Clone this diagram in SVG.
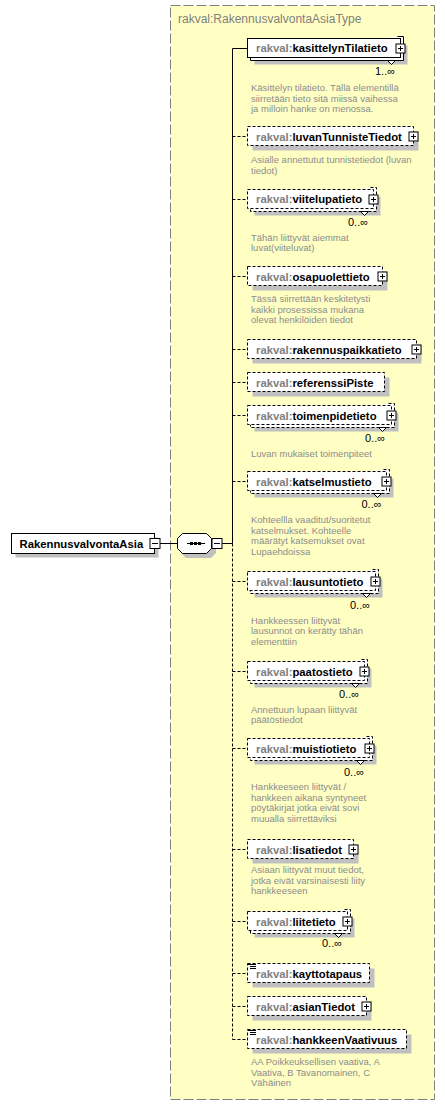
<svg xmlns="http://www.w3.org/2000/svg" width="445" height="1106" viewBox="0 0 445 1106">
<style>
.bg{fill:#ffffc4;stroke:#808080;stroke-width:1;stroke-dasharray:10,3}
.box{fill:#fff;stroke:#000;stroke-width:1}
.opt{stroke-dasharray:3,2}
.sh{fill:#c0c0c0}
.ln{fill:none;stroke:#000;stroke-width:1}
.nm{font-family:"Liberation Sans",Arial,sans-serif;font-weight:bold;font-size:11.3px;fill:#000}
.ns{fill:#808080}
.ds{font-family:"Liberation Sans",Arial,sans-serif;font-size:9.5px;fill:#8c8c8c}
.cd{font-family:"Liberation Sans",Arial,sans-serif;font-size:11px;fill:#000}
.tt{font-family:"Liberation Sans",Arial,sans-serif;font-size:12px;fill:#808080}
</style>
<defs>
<g id="plus"><rect class="box" x="-4.5" y="-4.5" width="9" height="9"/><path class="ln" d="M-2.5,0H2.5M0,-2.5V2.5"/></g>
<g id="minus"><rect class="box" x="-5" y="-5" width="10" height="10"/><path class="ln" d="M-3,0H3"/></g>
</defs>

<rect id="typebox" class="bg" x="170.5" y="5.5" width="264" height="1094"/>
<text class="tt" x="178" y="22.5">rakval:RakennusvalvontaAsiaType</text>

<g id="connectors">
<path class="ln" d="M160,543.5H177M222,543.5H232.5M232.5,48.5V543.5M232.5,48.5H247.5"/>
<path class="ln opt" d="M232.5,543.5V1039.5M232.5,136.5H247.5M232.5,199.5H247.5M232.5,276.5H247.5M232.5,349.5H247.5M232.5,382.5H247.5M232.5,415.5H247.5M232.5,481.5H247.5M232.5,581.5H247.5M232.5,671.5H247.5M232.5,748.5H247.5M232.5,849.5H247.5M232.5,921.5H247.5M232.5,973.5H247.5M232.5,1006.5H247.5M232.5,1039.5H247.5"/>
</g>

<g id="root">
<rect class="sh" x="15.5" y="537.5" width="143" height="20"/>
<rect class="box" x="11.5" y="533.5" width="143" height="20"/>
<text class="nm" x="19.5" y="547.5">RakennusvalvontaAsia</text>
<use href="#minus" x="155" y="543.5"/>
</g>

<g id="sequence">
<polygon class="sh" points="186,538 207,538 216,543 216,553 211,558 186,558 181,553 181,543"/>
<polygon class="box" points="182.5,533.5 206.5,533.5 211.5,538.5 211.5,548.5 206.5,553.5 182.5,553.5 177.5,548.5 177.5,538.5"/>
<path class="ln" d="M187,543.5H205"/>
<rect x="190" y="542" width="3" height="3" fill="#000"/>
<rect x="194" y="542" width="3" height="3" fill="#000"/>
<rect x="198" y="542" width="3" height="3" fill="#000"/>
<use href="#minus" x="217" y="543.5"/>
</g>

<g id="kasittelynTilatieto">
<rect class="sh" x="254.5" y="45.5" width="153" height="19"/>
<path class="box" d="M397.5,36.5H403.5V60.5H250.5V57.5"/>
<rect class="box" x="247.5" y="38.5" width="153" height="19"/>
<polygon class="box" points="387.5,60.5 391.5,64.5 395.5,60.5"/>
<text class="nm" x="256" y="52"><tspan class="ns">rakval:</tspan>kasittelynTilatieto</text>
<use href="#plus" x="400.5" y="48.5"/>
<text class="cd" x="375" y="75">1..∞</text>
<text class="ds" x="251" y="91">Käsittelyn tilatieto. Tällä elementillä</text>
<text class="ds" x="251" y="101.5">siirretään tieto sitä miissä vaihessa</text>
<text class="ds" x="251" y="112">ja milloin hanke on menossa.</text>
</g>

<g id="luvanTunnisteTiedot">
<rect class="sh" x="252.5" y="131.5" width="166" height="19"/>
<rect class="box opt" x="247.5" y="126.5" width="166" height="19"/>
<text class="nm" x="256" y="140.5"><tspan class="ns">rakval:</tspan>luvanTunnisteTiedot</text>
<use href="#plus" x="413.5" y="136.5"/>
<text class="ds" x="251" y="163">Asialle annettutut tunnistetiedot (luvan</text>
<text class="ds" x="251" y="173.5">tiedot)</text>
</g>

<g id="viitelupatieto">
<rect class="sh" x="254.5" y="196.5" width="126" height="19"/>
<path class="box opt" d="M370.5,187.5H376.5V211.5H250.5V208.5"/>
<rect class="box opt" x="247.5" y="189.5" width="126" height="19"/>
<polygon class="box" points="360.5,211.5 364.5,215.5 368.5,211.5"/>
<text class="nm" x="256" y="203"><tspan class="ns">rakval:</tspan>viitelupatieto</text>
<use href="#plus" x="373.5" y="199.5"/>
<text class="cd" x="348" y="225.5">0..∞</text>
<text class="ds" x="251" y="240.5">Tähän liittyvät aiemmat</text>
<text class="ds" x="251" y="251">luvat(viiteluvat)</text>
</g>

<g id="osapuolettieto">
<rect class="sh" x="252.5" y="271.5" width="135" height="19"/>
<rect class="box opt" x="247.5" y="266.5" width="135" height="19"/>
<text class="nm" x="256" y="280.5"><tspan class="ns">rakval:</tspan>osapuolettieto</text>
<use href="#plus" x="382.5" y="276.5"/>
<text class="ds" x="251" y="302">Tässä siirrettään keskitetysti</text>
<text class="ds" x="251" y="312.5">kaikki prosessissa mukana</text>
<text class="ds" x="251" y="323">olevat henkilöiden tiedot</text>
</g>

<g id="rakennuspaikkatieto">
<rect class="sh" x="252.5" y="344.5" width="169" height="19"/>
<rect class="box opt" x="247.5" y="339.5" width="169" height="19"/>
<text class="nm" x="256" y="353.5"><tspan class="ns">rakval:</tspan>rakennuspaikkatieto</text>
<use href="#plus" x="416.5" y="349.5"/>
</g>

<g id="referenssiPiste">
<rect class="sh" x="252.5" y="377.5" width="137" height="19"/>
<rect class="box opt" x="247.5" y="372.5" width="137" height="19"/>
<text class="nm" x="256" y="386.5"><tspan class="ns">rakval:</tspan>referenssiPiste</text>
</g>

<g id="toimenpidetieto">
<rect class="sh" x="254.5" y="412.5" width="144" height="19"/>
<path class="box opt" d="M388.5,403.5H394.5V427.5H250.5V424.5"/>
<rect class="box opt" x="247.5" y="405.5" width="144" height="19"/>
<polygon class="box" points="378.5,427.5 382.5,431.5 386.5,427.5"/>
<text class="nm" x="256" y="419.5"><tspan class="ns">rakval:</tspan>toimenpidetieto</text>
<use href="#plus" x="391.5" y="415.5"/>
<text class="cd" x="365" y="441.5">0..∞</text>
<text class="ds" x="251" y="456.5">Luvan mukaiset toimenpiteet</text>
</g>

<g id="katselmustieto">
<rect class="sh" x="254.5" y="478.5" width="139" height="19"/>
<path class="box opt" d="M383.5,469.5H389.5V493.5H250.5V490.5"/>
<rect class="box opt" x="247.5" y="471.5" width="139" height="19"/>
<polygon class="box" points="373.5,493.5 377.5,497.5 381.5,493.5"/>
<text class="nm" x="256" y="485.5"><tspan class="ns">rakval:</tspan>katselmustieto</text>
<use href="#plus" x="386.5" y="481.5"/>
<text class="cd" x="361.5" y="508">0..∞</text>
<text class="ds" x="251" y="523">Kohteellla vaaditut/suoritetut</text>
<text class="ds" x="251" y="533.5">katselmukset. Kohteelle</text>
<text class="ds" x="251" y="544">määrätyt katsemukset ovat</text>
<text class="ds" x="251" y="554.5">Lupaehdoissa</text>
</g>

<g id="lausuntotieto">
<rect class="sh" x="254.5" y="578.5" width="128" height="19"/>
<path class="box opt" d="M372.5,569.5H378.5V593.5H250.5V590.5"/>
<rect class="box opt" x="247.5" y="571.5" width="128" height="19"/>
<polygon class="box" points="362.5,593.5 366.5,597.5 370.5,593.5"/>
<text class="nm" x="256" y="585.5"><tspan class="ns">rakval:</tspan>lausuntotieto</text>
<use href="#plus" x="375.5" y="581.5"/>
<text class="cd" x="350" y="608.5">0..∞</text>
<text class="ds" x="251" y="623.5">Hankkeessen liittyvät</text>
<text class="ds" x="251" y="634">lausunnot on kerätty tähän</text>
<text class="ds" x="251" y="644.5">elementtiin</text>
</g>

<g id="paatostieto">
<rect class="sh" x="254.5" y="668.5" width="117" height="19"/>
<path class="box opt" d="M361.5,659.5H367.5V683.5H250.5V680.5"/>
<rect class="box opt" x="247.5" y="661.5" width="117" height="19"/>
<polygon class="box" points="351.5,683.5 355.5,687.5 359.5,683.5"/>
<text class="nm" x="256" y="675.5"><tspan class="ns">rakval:</tspan>paatostieto</text>
<use href="#plus" x="364.5" y="671.5"/>
<text class="cd" x="339" y="698">0..∞</text>
<text class="ds" x="251" y="712.5">Annettuun lupaan liittyvät</text>
<text class="ds" x="251" y="723">päätöstiedot</text>
</g>

<g id="muistiotieto">
<rect class="sh" x="254.5" y="745.5" width="122" height="19"/>
<path class="box opt" d="M366.5,736.5H372.5V760.5H250.5V757.5"/>
<rect class="box opt" x="247.5" y="738.5" width="122" height="19"/>
<polygon class="box" points="356.5,760.5 360.5,764.5 364.5,760.5"/>
<text class="nm" x="256" y="752.5"><tspan class="ns">rakval:</tspan>muistiotieto</text>
<use href="#plus" x="369.5" y="748.5"/>
<text class="cd" x="344" y="775.5">0..∞</text>
<text class="ds" x="251" y="790">Hankkeeseen liittyvät /</text>
<text class="ds" x="251" y="800.5">hankkeen aikana syntyneet</text>
<text class="ds" x="251" y="811">pöytäkirjat jotka eivät sovi</text>
<text class="ds" x="251" y="821.5">muualla siirrettäviksi</text>
</g>

<g id="lisatiedot">
<rect class="sh" x="252.5" y="844.5" width="106" height="19"/>
<rect class="box opt" x="247.5" y="839.5" width="106" height="19"/>
<text class="nm" x="256" y="853.5"><tspan class="ns">rakval:</tspan>lisatiedot</text>
<use href="#plus" x="353.5" y="849.5"/>
<text class="ds" x="251" y="872.5">Asiaan liittyvät muut tiedot,</text>
<text class="ds" x="251" y="883.5">jotka eivät varsinaisesti liity</text>
<text class="ds" x="251" y="894">hankkeeseen</text>
</g>

<g id="liitetieto">
<rect class="sh" x="254.5" y="918.5" width="100" height="19"/>
<path class="box opt" d="M344.5,909.5H350.5V933.5H250.5V930.5"/>
<rect class="box opt" x="247.5" y="911.5" width="100" height="19"/>
<polygon class="box" points="334.5,933.5 338.5,937.5 342.5,933.5"/>
<text class="nm" x="256" y="925.5"><tspan class="ns">rakval:</tspan>liitetieto</text>
<use href="#plus" x="347.5" y="921.5"/>
<text class="cd" x="322" y="947">0..∞</text>
</g>

<g id="kayttotapaus">
<rect class="sh" x="252.5" y="968.5" width="122" height="19"/>
<rect class="box opt" x="247.5" y="963.5" width="122" height="19"/>
<path class="ln" d="M248,964.5H256M250,966.5H256M250,968.5H256"/>
<text class="nm" x="256" y="977.5"><tspan class="ns">rakval:</tspan>kayttotapaus</text>
</g>

<g id="asianTiedot">
<rect class="sh" x="252.5" y="1001.5" width="119" height="19"/>
<rect class="box opt" x="247.5" y="996.5" width="119" height="19"/>
<text class="nm" x="256" y="1010.5"><tspan class="ns">rakval:</tspan>asianTiedot</text>
<use href="#plus" x="366.5" y="1006.5"/>
</g>

<g id="hankkeenVaativuus">
<rect class="sh" x="252.5" y="1034.5" width="159" height="19"/>
<rect class="box opt" x="247.5" y="1029.5" width="159" height="19"/>
<path class="ln" d="M248,1030.5H256M250,1032.5H256M250,1034.5H256"/>
<text class="nm" x="256" y="1043.5"><tspan class="ns">rakval:</tspan>hankkeenVaativuus</text>
<text class="ds" x="251" y="1065">AA Poikkeuksellisen vaativa, A</text>
<text class="ds" x="251" y="1075.5">Vaativa, B Tavanomainen, C</text>
<text class="ds" x="251" y="1086">Vähäinen</text>
</g>
</svg>
